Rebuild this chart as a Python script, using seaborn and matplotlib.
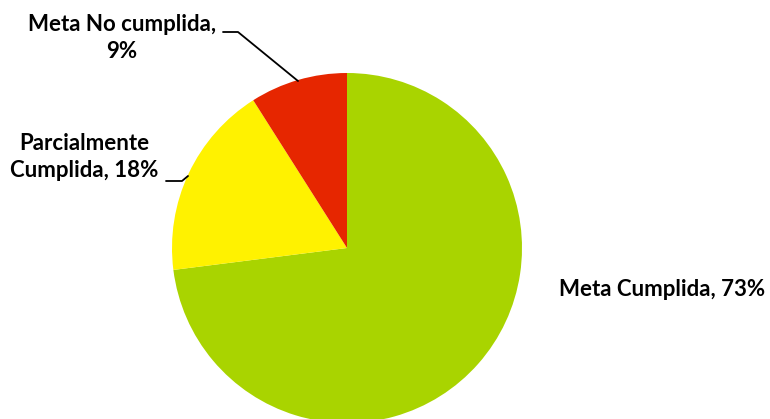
import matplotlib
matplotlib.use("Agg")
import matplotlib.pyplot as plt
import seaborn as sns

categories = ["Meta Cumplida", "Parcialmente Cumplida", "Meta No cumplida"]
shares = [73, 18, 9]
colors = ["#A9D400", "#FFF200", "#E62600"]

sns.set_theme(style="white")
plt.rcParams["font.family"] = ["Lato", "DejaVu Sans"]

fig = plt.figure(figsize=(7.7, 4.19), dpi=100)
ax = fig.add_axes([0, 0, 1, 1])
H = 419

# pie laid out in pixel units
ax.pie(shares, colors=colors, startangle=90, counterclock=False,
       center=(347, H - 248), radius=175, wedgeprops=dict(linewidth=0))
ax.set_xlim(0, 770)
ax.set_ylim(0, H)
ax.set_aspect("equal")
ax.axis("off")

font = dict(fontsize=16, fontweight="bold", color="black")

# labels
ax.text(122, H - 38, "Meta No cumplida,\n9%", ha="center", va="center",
        linespacing=1.35, **font)
ax.text(84, H - 157, "Parcialmente\nCumplida, 18%", ha="center", va="center",
        linespacing=1.35, **font)
ax.text(662, H - 290, "Meta Cumplida, 73%", ha="center", va="center", **font)

# leader lines
ax.plot([223, 238, 298], [H - 32, H - 32, H - 81], color="black", lw=1.3)
ax.plot([166, 182, 188], [H - 181, H - 181, H - 176], color="black", lw=1.3)

fig.savefig("out.png", dpi=100)
